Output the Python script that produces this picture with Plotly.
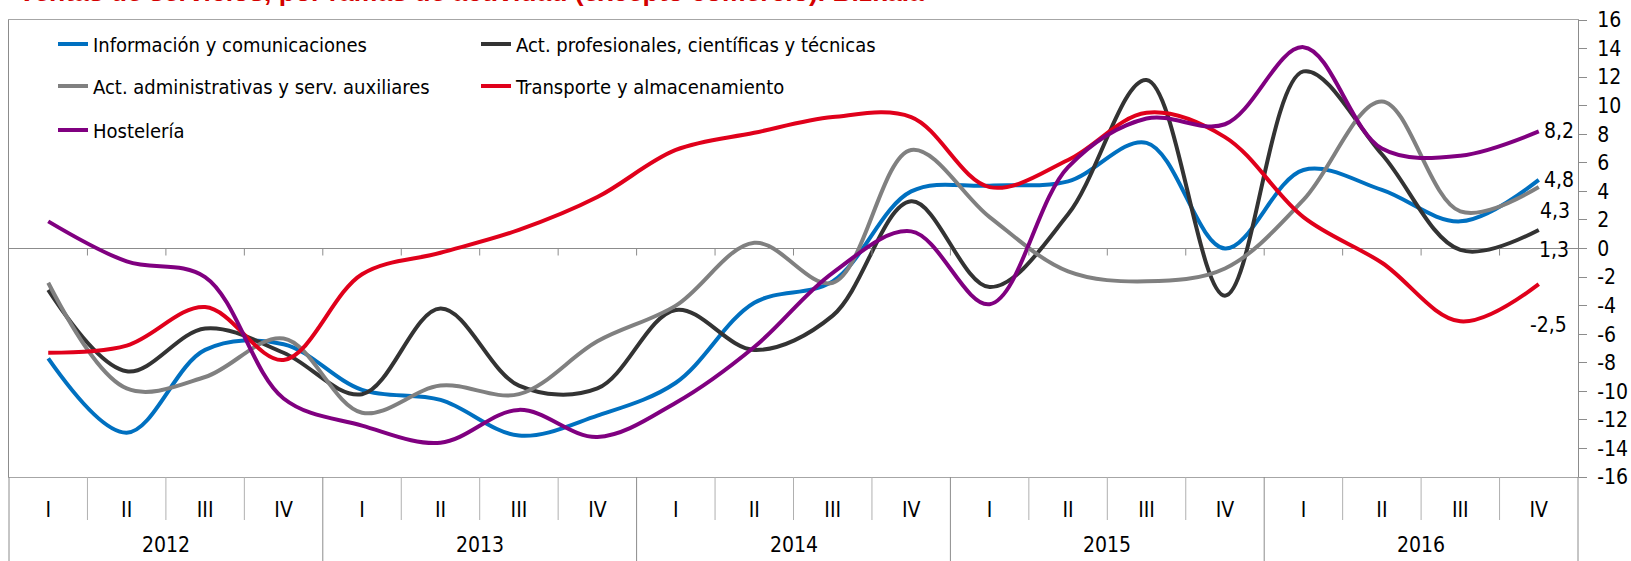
import plotly.graph_objects as go

# categories
YEARS = ["2012", "2013", "2014", "2015", "2016"]
QUARTERS = ["I", "II", "III", "IV"]

# tasa de variación interanual (%)
informacion = [-7.7, -12.9, -7.1, -6.7, -9.9, -10.6, -13.1, -11.7, -9.4, -3.8,
               -2.3, 4.0, 4.4, 4.7, 7.4, 0.0, 5.5, 4.1, 1.9, 4.8]
profesionales = [-2.9, -8.6, -5.6, -7.3, -10.2, -4.2, -9.6, -9.8, -4.3, -7.1,
                 -4.7, 3.3, -2.7, 2.4, 11.8, -3.3, 12.4, 6.6, -0.1, 1.3]
administrativas = [-2.4, -9.8, -9.0, -6.3, -11.5, -9.6, -10.2, -6.5, -4.0, 0.4,
                   -2.4, 6.9, 2.2, -1.6, -2.3, -1.4, 3.4, 10.3, 2.6, 4.3]
transporte = [-7.3, -6.8, -4.1, -7.8, -1.8, -0.3, 1.3, 3.6, 6.9, 8.1,
              9.2, 9.2, 4.3, 6.2, 9.5, 7.8, 2.2, -1.0, -5.1, -2.5]
hosteleria = [1.9, -0.9, -2.0, -10.5, -12.4, -13.6, -11.3, -13.2, -10.8, -6.9,
              -1.7, 1.2, -3.9, 5.7, 9.1, 8.7, 14.1, 7.0, 6.5, 8.2]

Y_TICKS = list(range(-16, 17, 2))

TITLE = "Ventas de servicios, por ramas de actividad (excepto comercio). Bizkaia"
FONT = "DejaVu Sans Condensed, Liberation Sans Narrow, sans-serif"
LEGEND_SIZE = 20
TICK_SIZE = 21
AXIS_GRAY = "#8c8c8c"

# name, values, colour, legend, end-label shift (x, y)
series = [
    ("Información y comunicaciones", informacion, "#0070C0", "legend", (3, 0)),
    ("Act. profesionales, científicas y técnicas", profesionales, "#333333", "legend", (-2, -20)),
    ("Act. administrativas y serv. auxiliares", administrativas, "#808080", "legend2", (-1, -24)),
    ("Transporte y almacenamiento", transporte, "#E0001B", "legend2", (-11, -41)),
    ("Hostelería", hosteleria, "#800080", "legend3", (3, 0)),
]

nq = len(QUARTERS)
n = len(YEARS) * nq
x_idx = list(range(n))
quarter_labels = [q for _ in YEARS for q in QUARTERS]

W, H = 1631, 561
M = dict(l=9, r=53, t=20, b=84)
plot_w = W - M["l"] - M["r"]
plot_h = H - M["t"] - M["b"]

fig = go.Figure()

for name, values, color, legend, _ in series:
    fig.add_trace(
        go.Scatter(
            x=x_idx,
            y=values,
            mode="lines",
            name=name,
            legend=legend,
            line=dict(color=color, width=4, shape="spline", smoothing=1),
            hoverinfo="skip",
        )
    )

# value labels on the last quarter
for name, values, color, legend, (dx, dy) in series:
    fig.add_annotation(
        x=x_idx[-1],
        y=values[-1],
        text=f"{values[-1]:.1f}".replace(".", ","),
        showarrow=False,
        xanchor="left",
        yanchor="middle",
        xshift=dx,
        yshift=dy,
        font=dict(family=FONT, size=TICK_SIZE, color="black"),
    )

# year labels under the quarters
for i, year in enumerate(YEARS):
    fig.add_annotation(
        x=i * nq + (nq - 1) / 2,
        y=-(545 - (H - M["b"])) / plot_h,
        yref="paper",
        text=year,
        showarrow=False,
        xanchor="center",
        yanchor="middle",
        font=dict(family=FONT, size=TICK_SIZE, color="black"),
    )

# title, partly above the page like in the source
fig.add_annotation(
    x=(16 - M["l"]) / plot_w,
    xref="paper",
    y=1 + (M["t"] - 9) / plot_h,
    yref="paper",
    text=f"<b>{TITLE}</b>",
    showarrow=False,
    xanchor="left",
    yanchor="bottom",
    font=dict(family="Liberation Sans, Arial, sans-serif", size=26.5, color="#D40000"),
)

# category separators below the plot area
shapes = []
for k in range(0, n + 1):
    full = k % nq == 0
    shapes.append(dict(
        type="line", xref="paper", yref="paper",
        x0=k / n, x1=k / n, y0=0, y1=-(M["b"] if full else 43) / plot_h,
        line=dict(color=AXIS_GRAY if full else "#b0b0b0", width=1),
    ))
# small ticks on the zero line
zero_frac = (0 - Y_TICKS[0]) / (Y_TICKS[-1] - Y_TICKS[0])
for k in range(1, n):
    shapes.append(dict(
        type="line", xref="paper", yref="paper",
        x0=k / n, x1=k / n, y0=zero_frac, y1=zero_frac - 7 / plot_h,
        line=dict(color=AXIS_GRAY, width=1),
    ))

legend_base = dict(
    orientation="h",
    xanchor="left",
    yanchor="middle",
    x=(53 - M["l"]) / plot_w,
    entrywidth=378,
    entrywidthmode="pixels",
    bgcolor="rgba(0,0,0,0)",
    font=dict(family=FONT, size=LEGEND_SIZE, color="black"),
    itemclick=False,
    itemdoubleclick=False,
)

fig.update_layout(
    width=W,
    height=H,
    margin=M,
    template="none",
    paper_bgcolor="white",
    plot_bgcolor="white",
    showlegend=True,
    shapes=shapes,
    legend=dict(legend_base, y=1 - (44 - M["t"]) / plot_h),
    legend2=dict(legend_base, y=1 - (86 - M["t"]) / plot_h),
    legend3=dict(legend_base, y=1 - (130 - M["t"]) / plot_h),
)

fig.update_xaxes(
    range=[-0.5, n - 0.5],
    tickvals=x_idx,
    ticktext=quarter_labels,
    showgrid=False,
    zeroline=False,
    showline=True,
    mirror=True,
    linecolor="#a6a6a6",
    linewidth=1,
    ticks="outside",
    ticklen=14,
    tickcolor="rgba(0,0,0,0)",
    tickfont=dict(family=FONT, size=TICK_SIZE, color="black"),
)

fig.update_yaxes(
    side="right",
    range=[Y_TICKS[0], Y_TICKS[-1]],
    tickvals=Y_TICKS,
    ticktext=[str(v) for v in Y_TICKS],
    showgrid=False,
    zeroline=True,
    zerolinecolor=AXIS_GRAY,
    zerolinewidth=1,
    showline=True,
    mirror=True,
    linecolor=AXIS_GRAY,
    linewidth=1,
    ticks="outside",
    ticklen=8,
    tickcolor=AXIS_GRAY,
    ticklabelstandoff=6,
    tickfont=dict(family=FONT, size=TICK_SIZE, color="black"),
)

# drop the browser's default page margin so the figure fills the window
fig.write_html(
    "out.html",
    config={"displayModeBar": False},
    post_script="document.body.style.margin='0';document.body.style.overflow='hidden';",
)
